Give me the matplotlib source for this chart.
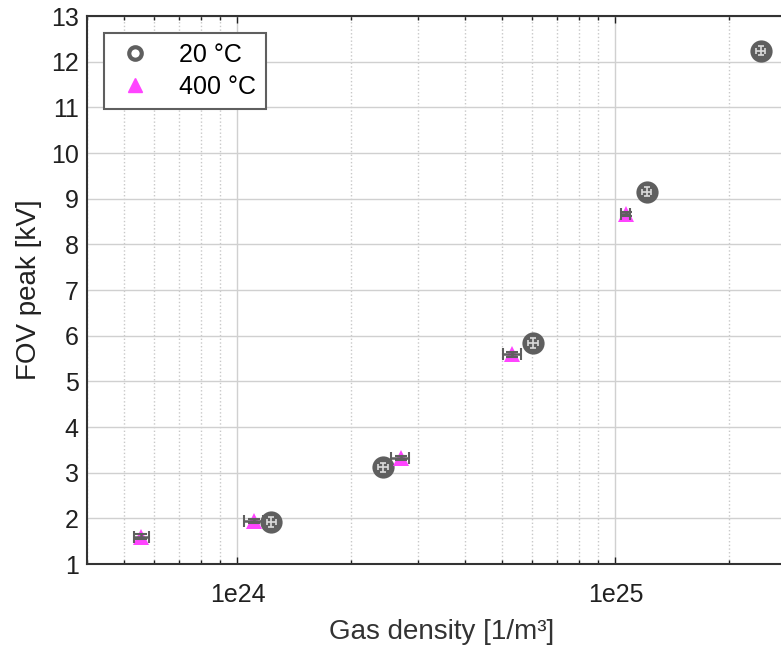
import numpy as np
import matplotlib
matplotlib.use("Agg")
from matplotlib import pyplot as plt
from matplotlib.lines import Line2D
from matplotlib.ticker import FixedLocator, FuncFormatter, LogLocator, NullFormatter

plt.rcParams['font.family'] = ['Liberation Sans', 'DejaVu Sans']

# 20 C data
dens_20 = [1.23e24, 2.43e24, 6.05e24, 1.21e25, 2.42e25]
fov_20 = [1.92, 3.12, 5.84, 9.15, 12.24]
dens_20_err = [0.035e24, 0.07e24, 0.17e24, 0.035e25, 0.07e25]
fov_20_err = [0.10, 0.10, 0.10, 0.10, 0.10]

# 400 C data
dens_400 = [5.57e23, 1.107e24, 2.70e24, 5.34e24, 1.065e25]
fov_400 = [1.60, 1.94, 3.32, 5.59, 8.66]
dens_400_err = [0.25e23, 0.065e24, 0.15e24, 0.30e24, 0.03e25]
fov_400_err = [0.05, 0.05, 0.05, 0.05, 0.05]

gray = '#5f5f5f'
pink = '#ff44ff'

fig = plt.figure(figsize=(7.81, 6.48), dpi=100)
ax = fig.add_axes([0.1114, 0.1296, 0.9076, 0.8457])

# markers first, error bars on top of them
ax.plot(dens_20, fov_20, 'o', ms=16, mfc=gray, mec=gray, mew=0, zorder=3)
ax.errorbar(dens_20, fov_20, xerr=dens_20_err, yerr=fov_20_err, fmt='none',
            ecolor='#dcdcdc', elinewidth=1.2, capsize=2.5, capthick=1.2, zorder=4)
ax.plot(dens_400, fov_400, '^', ms=12, mfc=pink, mec=pink, mew=0, zorder=5)
ax.errorbar(dens_400, fov_400, xerr=dens_400_err, yerr=fov_400_err, fmt='none',
            ecolor=gray, elinewidth=1.8, capsize=4, capthick=1.5, zorder=6)

ax.set_xscale('log')
ax.set_xlim(4e23, 3e25)
ax.set_ylim(1, 13)
ax.set_yticks(np.arange(1, 14, 1))

ax.xaxis.set_major_locator(FixedLocator([1e24, 1e25]))
ax.xaxis.set_major_formatter(FuncFormatter(lambda v, p: '1e%d' % round(np.log10(v))))
ax.xaxis.set_minor_locator(LogLocator(base=10, subs=np.arange(2, 10)))
ax.xaxis.set_minor_formatter(NullFormatter())

ax.grid(True, which='major', color='#d0d0d0', linewidth=1.0)
ax.grid(True, which='minor', axis='x', color='#c8c8c8', linestyle=':', linewidth=1.0)
ax.set_axisbelow(True)

ax.tick_params(which='both', direction='in', top=True, right=False, labelsize=18,
               colors='#202020', width=1)
ax.tick_params(which='major', length=5)
ax.tick_params(which='minor', length=3)
ax.tick_params(axis='x', pad=14)
ax.tick_params(axis='y', length=0, pad=6)
for s in ax.spines.values():
    s.set_color('#333333')
    s.set_linewidth(1.5)

ax.set_xlabel('Gas density [1/m³]', fontsize=20, color='#333333', labelpad=8)
ax.set_ylabel('FOV peak [kV]', fontsize=20, color='#222222', labelpad=6)

handles = [
    Line2D([], [], ls='none', marker='o', ms=9, mfc='white', mec=gray, mew=3),
    Line2D([], [], ls='none', marker='^', ms=10, mfc=pink, mec=pink),
]
leg = ax.legend(handles, ['20 °C', '400 °C'], loc='upper left', fontsize=18,
                frameon=True, fancybox=False, edgecolor=gray, framealpha=1,
                borderaxespad=0.68, handletextpad=0.9, handlelength=1.7,
                borderpad=0.4, labelspacing=0.3)
leg.get_frame().set_linewidth(1.5)

fig.savefig('out.png', dpi=100)
